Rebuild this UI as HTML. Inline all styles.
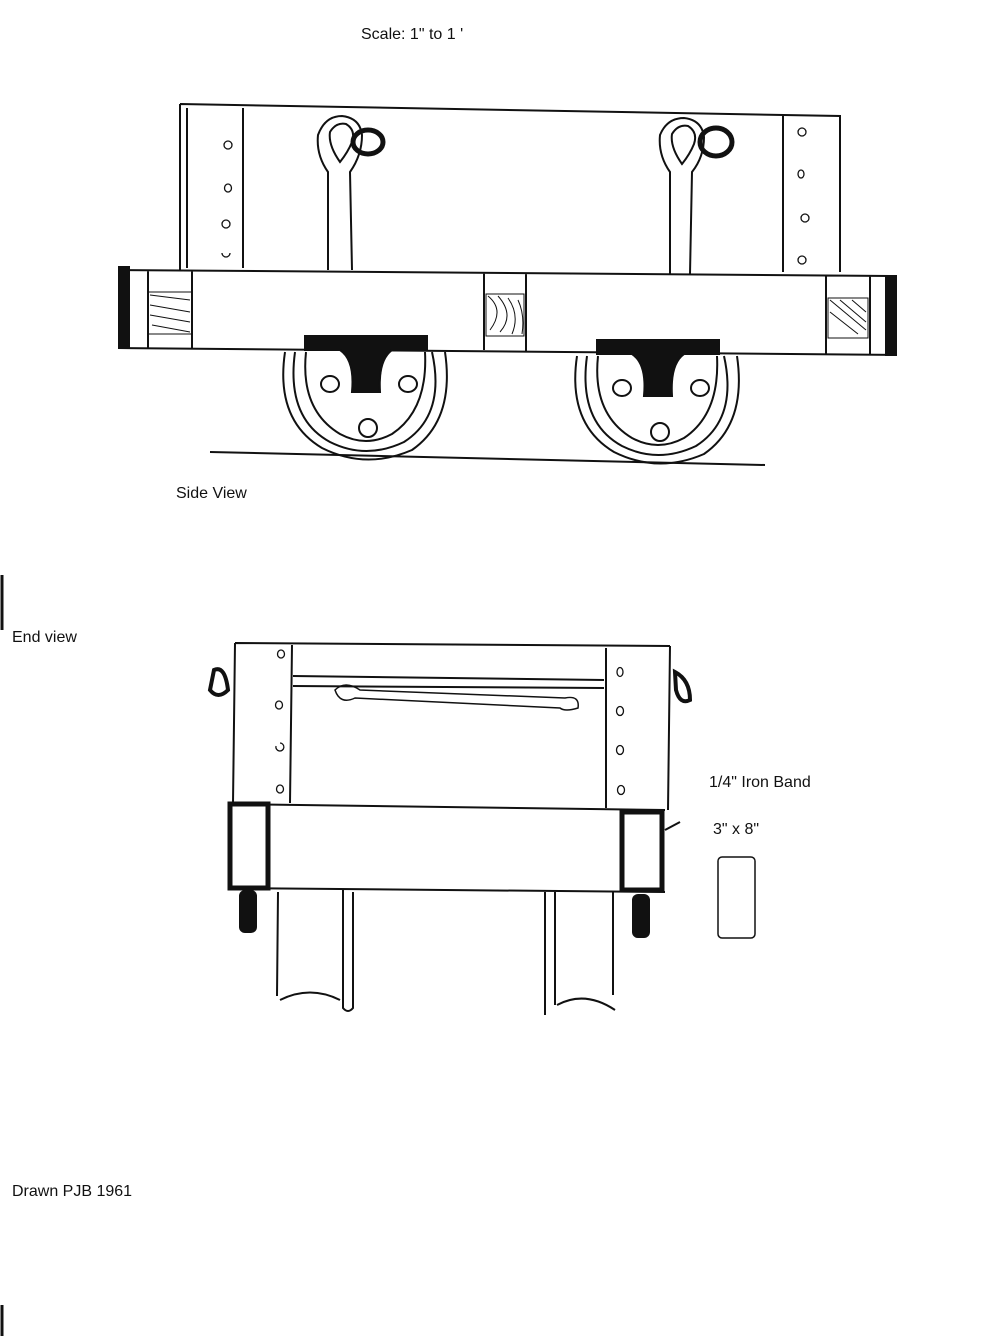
<!DOCTYPE html>
<html><head><meta charset="utf-8"><style>
html,body{margin:0;padding:0;background:#fff;}
svg{display:block}
text{font-family:"Liberation Sans",sans-serif;font-size:16px;fill:#111}
</style></head><body>
<svg width="1000" height="1336" viewBox="0 0 1000 1336" xmlns="http://www.w3.org/2000/svg">
<g stroke="#111" fill="none" stroke-width="2">
<text x="361" y="39" stroke="none">Scale: 1" to 1 '</text>
<path d="M180 104 L840 116 L840 272 M180 104 L180 270"/>
<path d="M187 108 L187 268 M243 108 L243 268 M783 116 L783 272"/>
<g stroke-width="1.3">
<ellipse cx="228" cy="145" rx="4" ry="4"/><ellipse cx="228" cy="188" rx="3.5" ry="4"/><ellipse cx="226" cy="224" rx="4" ry="4"/><path d="M222 253 a4 4 0 0 0 8 0"/>
<ellipse cx="802" cy="132" rx="4" ry="4"/><ellipse cx="801" cy="174" rx="3" ry="4"/><ellipse cx="805" cy="218" rx="4" ry="4"/><ellipse cx="802" cy="260" rx="4" ry="4"/>
</g>
<!-- lifting eyes -->
<path d="M328 270 L328 172 Q316 155 318 135 Q325 116 342 116 Q360 118 362 135 Q362 155 350 172 L352 270"/>
<path d="M340 162 Q328 145 330 132 Q336 122 346 124 Q356 130 352 142 Q348 152 340 162 Z"/>
<ellipse cx="368" cy="142" rx="15" ry="12" stroke-width="5"/>
<path d="M670 274 L670 172 Q658 155 660 135 Q667 118 684 118 Q702 120 704 137 Q704 157 692 172 L690 274"/>
<path d="M682 164 Q670 147 672 134 Q678 124 688 126 Q698 132 694 144 Q690 154 682 164 Z"/>
<ellipse cx="716" cy="142" rx="16" ry="14" stroke-width="5"/>
<path d="M118 270 L897 276 M118 348 L897 355 M148 270 L148 348 M192 270 L192 348 M484 272 L484 350 M526 274 L526 352 M826 276 L826 354 M870 276 L870 354"/>
<rect x="118" y="266" width="12" height="82" fill="#111" stroke="none"/>
<rect x="885" y="276" width="12" height="80" fill="#111" stroke="none"/>
<g stroke-width="1"><path d="M150 295 L190 300 M150 305 L190 312 M150 315 L190 322 M152 325 L190 332"/><path d="M488 296 Q505 310 490 330 M498 296 Q515 315 500 332 M508 298 Q520 315 512 334 M518 300 Q525 315 522 334"/><path d="M830 300 L866 330 M840 300 L866 322 M830 312 L858 334 M852 300 L866 312"/></g>
<path d="M148 292 L192 292 L192 334 L148 334 Z M486 294 L524 294 L524 336 L486 336 Z M828 298 L868 298 L868 338 L828 338 Z" stroke-width="1"/>
<g id="w">
<path d="M285 352 Q275 420 322 448 Q366 470 412 450 Q455 420 445 352" />
<path d="M295 352 Q286 418 330 442 Q366 460 404 442 Q446 415 432 352"/>
<path d="M306 352 Q300 410 340 434 Q366 448 392 434 Q428 410 425 352"/>
<path d="M305 336 L427 336 L427 350 L392 350 Q378 360 380 392 L352 392 Q355 360 340 350 L305 350 Z" fill="#111"/>
<ellipse cx="330" cy="384" rx="9" ry="8"/><ellipse cx="408" cy="384" rx="9" ry="8"/><ellipse cx="368" cy="428" rx="9" ry="9"/>
</g>
<use href="#w" transform="translate(292,4)"/>
<path d="M210 452 L765 465"/>
<text x="176" y="498" stroke="none">Side View</text>
<text x="12" y="642" stroke="none">End view</text>
<path d="M235 643 L670 646 M235 643 L233 803 M670 646 L668 810 M292 645 L290 803 M606 648 L606 808 M293 676 L604 680 M293 686 L604 688"/>
<path d="M335 690 Q345 680 360 690 L565 698 Q580 695 578 708 Q565 712 560 708 L355 698 Q340 705 335 690 Z" stroke-width="1.5"/>
<g stroke-width="1.3">
<ellipse cx="281" cy="654" rx="3.5" ry="4"/><ellipse cx="279" cy="705" rx="3.5" ry="4"/><path d="M276 746 a4 4 0 1 0 4 -3"/><ellipse cx="280" cy="789" rx="3.5" ry="4"/>
<ellipse cx="620" cy="672" rx="3" ry="4.5"/><ellipse cx="620" cy="711" rx="3.5" ry="4.5"/><ellipse cx="620" cy="750" rx="3.5" ry="4.5"/><ellipse cx="621" cy="790" rx="3.5" ry="4.5"/>
</g>
<path d="M214 670 Q225 665 228 690 Q218 700 210 690 Z" stroke-width="4"/>
<path d="M675 672 Q690 680 690 700 Q680 705 676 690 Z" stroke-width="4"/>
<path d="M230 804 L665 810 M230 888 L665 892"/>
<rect x="230" y="804" width="38" height="84" stroke-width="5"/>
<rect x="622" y="812" width="40" height="78" stroke-width="5"/>
<rect x="239" y="890" width="18" height="43" rx="6" fill="#111" stroke="none"/>
<rect x="632" y="894" width="18" height="44" rx="6" fill="#111" stroke="none"/>
<path d="M278 892 L277 996 M343 890 L343 1008 Q348 1014 353 1008 L353 892 M545 892 L545 1015 M555 892 L555 1005 M613 892 L613 995"/>
<path d="M280 1000 Q310 985 340 1000 M557 1005 Q585 990 615 1010"/>
<path d="M665 830 L680 822"/>
<text x="709" y="787" stroke="none">1/4" Iron Band</text>
<text x="713" y="834" stroke="none">3" x 8"</text>
<rect x="718" y="857" width="37" height="81" rx="4" stroke-width="1.5"/>
<text x="12" y="1196" stroke="none">Drawn PJB 1961</text>
<path d="M2 575 L2 630 M2 1305 L2 1336" stroke-width="3"/>
</g>
</svg>
</body></html>
